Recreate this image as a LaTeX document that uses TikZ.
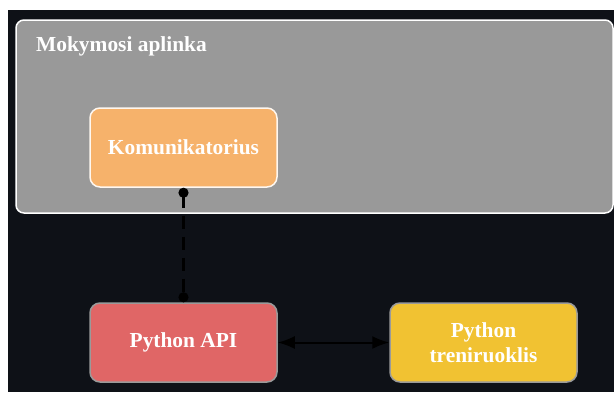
\documentclass[tikz,border=0pt]{standalone}
\usepackage{fontspec}
\setmainfont{Liberation Serif}
\usetikzlibrary{arrows.meta}

\definecolor{pagebg}{HTML}{0E1117}
\definecolor{zonegray}{HTML}{999999}
\definecolor{orangefill}{HTML}{F6B26B}
\definecolor{redfill}{HTML}{E06666}
\definecolor{yellowfill}{HTML}{F1C232}
\definecolor{softedge}{HTML}{9A9A9A}

\tikzset{
  zone/.style={draw=white, line width=1.5pt, fill=zonegray, rounded corners=8pt,
    minimum width=597pt, minimum height=193pt, inner sep=0pt},
  labelfont/.style={font=\bfseries\fontsize{21.4}{25}\selectfont},
  compbox/.style={line width=1.5pt, rounded corners=10pt, minimum width=187pt,
    minimum height=79pt, inner sep=0pt, text=white, align=center, labelfont},
  link/.style={black, line width=2.5pt},
}

\begin{document}
\begin{tikzpicture}[x=1pt, y=-1pt]
  % page and dark canvas
  \fill[white] (0,0) rectangle (614,392);
  \fill[pagebg] (8,10) rectangle (614,392);
  \useasboundingbox (0,0) rectangle (614,392);

  % application zone
  \node[zone] (zone) at (314.5,116.5) {};
  \node[anchor=base west, inner sep=0pt, text=white, labelfont] (zonelabel) at (36,51) {Mokymosi aplinka};

  % components
  \node[compbox, draw=white!90!orangefill, fill=orangefill] (kom) at (183.5,147.5) {Komunikatorius};
  \node[compbox, draw=softedge, fill=redfill] (api) at (183.5,342.5) {Python API};
  \node[compbox, draw=softedge, fill=yellowfill] (trainer) at (483.5,342.5) {Python\\treniruoklis};

  % connectors
  \draw[link, dash pattern=on 13pt off 8pt, dash phase=2pt,
        {Circle[length=10pt]}-{Circle[length=10pt]}] (kom.south) -- (api.north);
  \draw[link, line width=2pt, {Latex[length=17pt,width=13pt]}-{Latex[length=17pt,width=13pt]}] (api.east) -- (trainer.west);
\end{tikzpicture}
\end{document}
